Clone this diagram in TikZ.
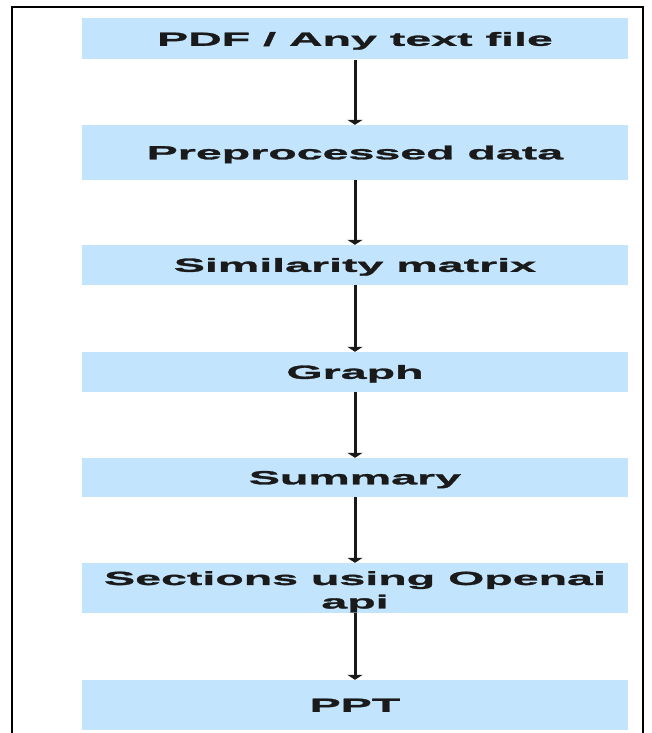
\documentclass[tikz,border=0pt]{standalone}
\usepackage{fontspec}
\setmainfont{Liberation Sans}
\newfontfamily\boxfont[FakeStretch=2.45,FakeBold=1.5]{Liberation Sans}
\usetikzlibrary{arrows.meta}
\definecolor{boxblue}{RGB}{194,228,252}
\definecolor{txt}{RGB}{26,26,26}
\begin{document}
\begin{tikzpicture}[x=1pt,y=-1pt,
  steptext/.style={inner sep=0pt, text=txt, align=center,
    font=\boxfont\bfseries\fontsize{19}{23.5}\selectfont},
  stepbox/.style={steptext, rectangle, fill=boxblue, draw=none, minimum width=546pt,
    text height=13.6pt, text depth=0pt},
  flow/.style={draw=black!90, line width=3pt, -{Triangle[width=15pt,length=5pt]}}]
\useasboundingbox (0,0) rectangle (651,733);
\fill[white] (0,0) rectangle (651,733);
\draw[line width=2pt] (12,733) -- (12,7.5) -- (643,7.5) -- (643,733);
\node[stepbox, minimum height=41pt] (b1) at (355,39) {PDF / Any text file};
\node[stepbox, minimum height=55pt] (b2) at (355,152.5) {Preprocessed data};
\node[stepbox, minimum height=40pt] (b3) at (355,265) {Similarity matrix};
\node[stepbox, minimum height=40pt] (b4) at (355,372) {Graph};
\node[stepbox, minimum height=39pt] (b5) at (355,477.5) {Summary};
\node[stepbox, minimum height=50pt] (b6) at (355,588) {};
\node[stepbox, minimum height=50pt] (b7) at (355,705) {PPT};
\draw[flow] (b1.south) -- (b2.north);
\draw[flow] (b2.south) -- (b3.north);
\draw[flow] (b3.south) -- (b4.north);
\draw[flow] (b4.south) -- (b5.north);
\draw[flow] (b5.south) -- (b6.north);
\draw[flow] (b6.south) -- (b7.north);
\node[steptext, anchor=north] (b6t) at (355,571) {Sections using Openai\\api};
\end{tikzpicture}
\end{document}
